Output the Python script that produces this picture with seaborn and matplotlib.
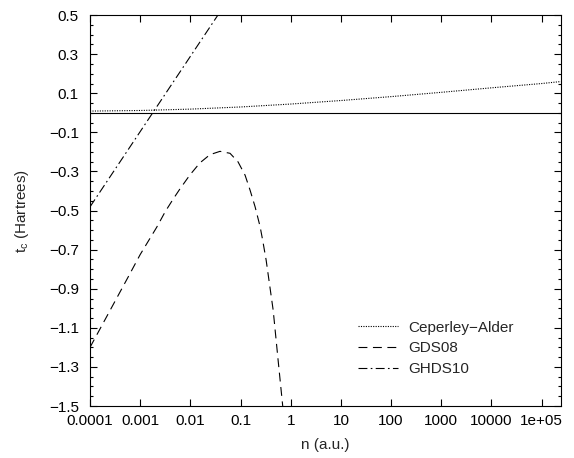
import numpy as np
import pandas as pd
import seaborn as sns
import matplotlib
matplotlib.use("Agg")
import matplotlib.pyplot as plt
from matplotlib.ticker import MultipleLocator, NullLocator

sns.set_theme(style="ticks")
plt.rcParams["font.family"] = ["Liberation Sans", "DejaVu Sans"]
plt.rcParams["font.size"] = 11

# values (x in log10 n)
ca_logn = [-4, -3, -2, -1, 0, 1, 2, 3, 4, 5, 5.38]
ca_tc = [0.009, 0.012, 0.019, 0.030, 0.045, 0.063, 0.083, 0.105, 0.128, 0.150, 0.160]

gds_logn = [-4.0, -3.24, -3.0, -2.67, -2.5, -2.34, -2.21, -2.01, -1.81, -1.61, -1.41,
            -1.21, -1.05, -0.91, -0.81, -0.71, -0.61, -0.56, -0.49, -0.35,
            -0.25, -0.16, -0.10]
gds_tc = [-1.20, -0.84, -0.725, -0.585, -0.505, -0.44, -0.39, -0.318, -0.256, -0.214, -0.197,
          -0.207, -0.251, -0.319, -0.396, -0.481, -0.583, -0.651, -0.754, -1.01,
          -1.27, -1.50, -1.70]

ghds_logn = [-4, -3, -2, -1]
ghds_tc = [-0.481, -0.096, 0.289, 0.674]

series = ["Ceperley\u2212Alder", "GDS08", "GHDS10"]

frames = []
for name, lx, ty in zip(series, [ca_logn, gds_logn, ghds_logn], [ca_tc, gds_tc, ghds_tc]):
    frames.append(pd.DataFrame({"n": 10.0 ** np.array(lx), "tc": ty, "model": name}))
data = pd.concat(frames, ignore_index=True)

fig = plt.figure(figsize=(5.74, 4.58), dpi=100)
ax = fig.add_axes([0.1568, 0.1135, 0.8206, 0.8535])

dashes = {series[0]: (1, 1.2), series[1]: (8, 5), series[2]: (8, 3, 1.5, 3)}
sns.lineplot(data=data, x="n", y="tc", hue="model", style="model",
             palette=["black"] * 3, dashes=dashes, linewidth=0.8,
             ax=ax, estimator=None)
ax.axhline(0, color="black", lw=0.8, zorder=1)

ax.set_xscale("log")
ax.set_xlim(1e-4, 2.43e5)
ax.set_ylim(-1.5, 0.5)

xt = [1e-4, 1e-3, 1e-2, 1e-1, 1, 10, 100, 1000, 10000, 1e5]
xl = ["0.0001", "0.001", "0.01", "0.1", "1", "10", "100", "1000", "10000", "1e+05"]
ax.set_xticks(xt)
ax.set_xticklabels(xl)
ax.xaxis.set_minor_locator(NullLocator())

yt = [0.5, 0.3, 0.1, -0.1, -0.3, -0.5, -0.7, -0.9, -1.1, -1.3, -1.5]
ax.set_yticks(yt)
ax.set_yticklabels([f"{v:.1f}".replace("-", "\u2212") for v in yt])
ax.yaxis.set_minor_locator(MultipleLocator(0.05))

ax.tick_params(which="both", direction="in", top=True, right=True,
               labelsize=11, width=0.8, colors="black")
ax.tick_params(which="major", length=5)
ax.tick_params(which="minor", length=2.5)
ax.tick_params(axis="y", which="major", pad=8)
ax.tick_params(axis="x", which="major", pad=6)
for s in ax.spines.values():
    s.set_linewidth(0.8)
    s.set_color("black")

ax.set_xlabel("n (a.u.)", fontsize=11, labelpad=7)
ax.set_ylabel("t$_\\mathregular{c}$ (Hartrees)", fontsize=11, labelpad=13)

handles, labels = ax.get_legend_handles_labels()
ax.legend(handles, labels, loc="upper left", bbox_to_anchor=(0.6, 0.33),
          bbox_transform=fig.transFigure, frameon=False, fontsize=11,
          handlelength=2.6, handletextpad=0.7, labelspacing=0.45)

fig.savefig("out.png", dpi=100)
